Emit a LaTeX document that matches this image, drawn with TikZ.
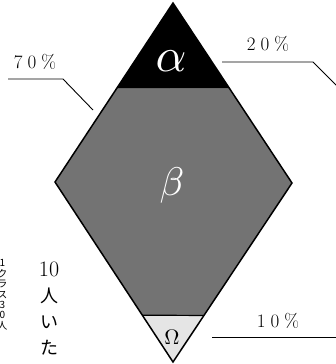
\documentclass[tikz,border=0pt]{standalone}
\usepackage{fontspec}
\newfontfamily\jpfont{Noto Sans CJK JP}
\usetikzlibrary{calc}
\begin{document}
\begin{tikzpicture}[x=1pt, y=-1pt,
    pct/.style={font=\fontsize{19}{19}\selectfont, inner sep=0pt},
    tate/.style={font=\jpfont\fontsize{18}{18}\selectfont, inner sep=0pt},
    tatesmall/.style={font=\jpfont\fontsize{10}{10}\selectfont, inner sep=0pt}]
    \useasboundingbox (0,0) rectangle (335,364);

    % corners of the diamond
    \coordinate (top) at (173,3);
    \coordinate (left) at (55,182);
    \coordinate (right) at (292,183);
    \coordinate (bot) at (173,362);

    % cut lines between the layers
    \coordinate (al) at ($(top)!0.475!(left)$);
    \coordinate (ar) at ($(top)!0.475!(right)$);
    \coordinate (ol) at ($(bot)!0.26!(left)$);
    \coordinate (or) at ($(bot)!0.26!(right)$);

    % the three layers
    \fill[black!55] (al) -- (left) -- (ol) -- (or) -- (right) -- (ar) -- cycle;
    \fill[black] (top) -- (al) -- (ar) -- cycle;
    \fill[black!10] (ol) -- (bot) -- (or) -- cycle;
    \draw[line width=1.5pt, line join=miter] (top) -- (left) -- (bot) -- (right) -- cycle;
    \draw[line width=1.2pt] (ol) -- (or);

    % names of the layers
    \node[white, inner sep=0pt, scale=4.8] (alpha) at (171,61) {$\alpha$};
    \node[white, inner sep=0pt, scale=4.0] (beta) at (172,185) {$\beta$};
    \node[inner sep=0pt, scale=2.1] (omega) at (172,337) {$\Omega$};

    % shares with their leader lines
    \node[pct, anchor=base] (p70) at (35,68) {7\hspace{5pt}0\hspace{5pt}\%};
    \node[pct, anchor=base] (p20) at (268,50) {2\hspace{5pt}0\hspace{5pt}\%};
    \node[pct, anchor=base] (p10) at (278,327) {1\hspace{5pt}0\hspace{5pt}\%};

    \coordinate (a70) at (8,79);
    \coordinate (k70) at (63,79);
    \coordinate (e70) at (93,110);
    \draw[line width=0.9pt] (a70) -- (k70) -- (e70);

    \coordinate (a20) at (222,62);
    \coordinate (k20) at (313,62);
    \coordinate (e20) at (345,94);
    \draw[line width=0.9pt] (a20) -- (k20) -- (e20);

    \coordinate (a10) at (212,337);
    \coordinate (e10) at (340,337);
    \draw[line width=0.9pt] (a10) -- (e10);

    % vertical note
    \node[inner sep=0pt] (ten) at (49,269) {\fontsize{22}{22}\selectfont 10};
    \foreach \ch [count=\i] in {人,い,た} {
        \node[tate] (t\i) at (49,270+26*\i) {\ch};
    }

    % cut-off column at the left edge
    \foreach \ch [count=\i] in {1,ク,ラ,ス,3,0,人} {
        \node[tatesmall] (s\i) at (2.5,253+10.4*\i) {\ch};
    }
\end{tikzpicture}
\end{document}
